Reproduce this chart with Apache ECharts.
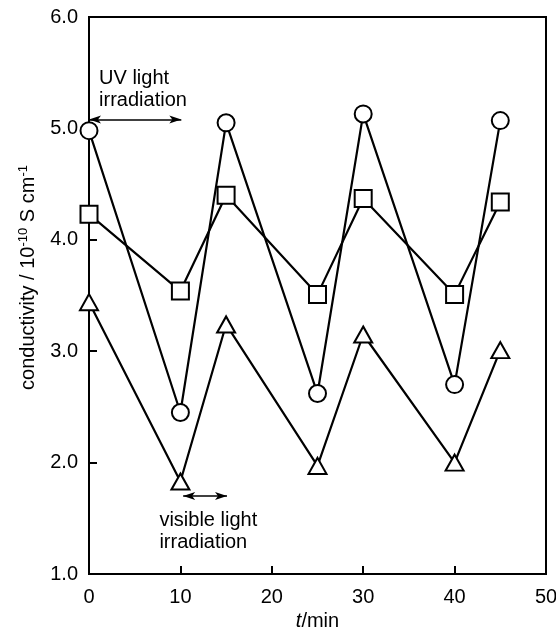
<!DOCTYPE html>
<html>
<head>
<meta charset="utf-8">
<script src="https://cdn.jsdelivr.net/npm/echarts@6/dist/echarts.min.js"></script>
<style>
html,body{margin:0;padding:0;background:#fff;}
#c{width:556px;height:628px;}
</style>
</head>
<body>
<div id="c"></div>
<script>
// time points (min)
const times = [0, 10, 15, 25, 30, 40, 45];
// series values (10^-10 S cm^-1)
const circleVals = [4.98, 2.45, 5.05, 2.62, 5.13, 2.70, 5.07];
const squareVals = [4.23, 3.54, 4.40, 3.51, 4.37, 3.51, 4.34];
const triangleVals = [3.44, 1.83, 3.24, 1.97, 3.15, 2.00, 3.01];
// axis ranges
const xTicks = [0, 10, 20, 30, 40, 50];
const yTicks = [1.0, 2.0, 3.0, 4.0, 5.0, 6.0];
// annotations (data coordinates)
const uvArrow = [[0, 5.08], [10.1, 5.08]];
const visArrow = [[10.3, 1.70], [15.1, 1.70]];
const uvText = {x: 1.1, y: 5.55, text: 'UV light\nirradiation'};
const visText = {x: 7.7, y: 1.58, text: 'visible light\nirradiation'};

const FONT = '"Liberation Sans", Arial, Helvetica, sans-serif';
const FS = 20;
const chart = echarts.init(document.getElementById('c'));

function pts(vals){ return times.map((t,i)=>[t, vals[i]]); }
function mkSeries(vals, symbol, size, extra){
  return Object.assign({
    type: 'line',
    data: pts(vals),
    symbol: symbol,
    symbolSize: size,
    showAllSymbol: true,
    lineStyle: {color: '#000', width: 2.2},
    itemStyle: {color: '#fff', borderColor: '#000', borderWidth: 2},
    emphasis: {disabled: true},
    animation: false,
    z: 3
  }, extra || {});
}
const arrowML = (seg) => ({
  silent: true,
  symbol: ['arrow', 'arrow'],
  symbolSize: [6, 12],
  label: {show: false},
  lineStyle: {color: '#000', width: 1.5, type: 'solid'},
  data: [[{coord: seg[0]}, {coord: seg[1]}]],
  animation: false
});

chart.setOption({
  backgroundColor: '#fff',
  animation: false,
  grid: {left: 89, right: 10, top: 17, bottom: 54, containLabel: false, outerBoundsMode: 'none',
    show: true, borderColor: '#000', borderWidth: 2, backgroundColor: 'transparent'},
  xAxis: {
    type: 'value', min: xTicks[0], max: xTicks[xTicks.length-1], interval: 10,
    name: '{it|t}/min', nameLocation: 'middle', nameGap: 35,
    nameTextStyle: {fontFamily: FONT, fontSize: FS, color: '#000',
      rich: {it: {fontFamily: FONT, fontSize: FS, fontStyle: 'italic', color: '#000'}}},
    axisLine: {show: true, lineStyle: {color: '#000', width: 2}},
    axisTick: {show: true, inside: true, length: 8, lineStyle: {color: '#000', width: 2}},
    axisLabel: {fontFamily: FONT, fontSize: FS, color: '#000', margin: 13},
    splitLine: {show: false}
  },
  yAxis: {
    type: 'value', min: yTicks[0], max: yTicks[yTicks.length-1], interval: 1,
    name: 'conductivity / 10{sup|-10} S cm{sup|-1}', nameLocation: 'middle', nameGap: 49, nameRotate: 90,
    nameTextStyle: {fontFamily: FONT, fontSize: FS, color: '#000', padding: [0, 0, 0, 36],
      rich: {sup: {fontFamily: FONT, fontSize: 13, color: '#000', verticalAlign: 'top', padding: [0,0,10,0]}}},
    axisLine: {show: true, lineStyle: {color: '#000', width: 2}},
    axisTick: {show: true, inside: true, length: 8, lineStyle: {color: '#000', width: 2}},
    axisLabel: {fontFamily: FONT, fontSize: FS, color: '#000', margin: 11, formatter: v => v.toFixed(1)},
    splitLine: {show: false}
  },
  series: [
    mkSeries(triangleVals, 'triangle', [18, 16]),
    mkSeries(squareVals, 'rect', 17),
    mkSeries(circleVals, 'circle', 17, {markLine: arrowML(uvArrow)}),
    {type: 'line', data: [], markLine: arrowML(visArrow)}
  ]
});

function place(t){
  const p = chart.convertToPixel({gridIndex: 0}, [t.x, t.y]);
  return {type: 'text', x: p[0], y: p[1], silent: true,
    style: {text: t.text, fontFamily: FONT, fontSize: FS, fill: '#000', lineHeight: 22, verticalAlign: 'top', align: 'left'}};
}
chart.setOption({graphic: [place(uvText), place(visText)]});
</script>
</body>
</html>
